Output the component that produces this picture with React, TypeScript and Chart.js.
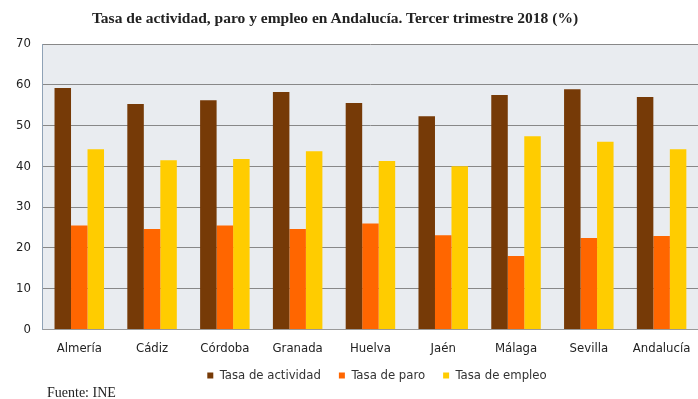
import React, { useEffect, useRef } from "react";
import { Chart, registerables } from "chart.js";

Chart.register(...registerables);

const categories = ["Almería", "Cádiz", "Córdoba", "Granada", "Huelva", "Jaén", "Málaga", "Sevilla", "Andalucía"];
const tasaActividad = [59.2, 55.3, 56.2, 58.2, 55.5, 52.3, 57.5, 58.9, 57.0];
const tasaParo = [25.5, 24.6, 25.5, 24.6, 26.0, 23.1, 18.0, 22.4, 22.9];
const tasaEmpleo = [44.2, 41.5, 41.8, 43.7, 41.3, 40.0, 47.4, 46.0, 44.2];
const yTicks = [0, 10, 20, 30, 40, 50, 60, 70];

const FONT = "'Liberation Sans Narrow', 'DejaVu Sans Condensed', Lato, sans-serif";

const plotBg = {
  id: "plotBg",
  beforeDraw(chart: any) {
    const { ctx, chartArea } = chart;
    if (!chartArea) return;
    ctx.save();
    ctx.fillStyle = "#E9ECF0";
    ctx.fillRect(chartArea.left, chartArea.top, chartArea.right - chartArea.left, chartArea.bottom - chartArea.top);
    ctx.restore();
  },
};

const legendShift = {
  id: "legendShift",
  afterLayout(chart: any) {
    const lg = chart.legend;
    if (lg) {
      lg.left += 26;
      lg.right += 26;
      lg.top -= 16;
      lg.bottom -= 16;
    }
  },
};

export default function App() {
  const ref = useRef<HTMLCanvasElement>(null);
  useEffect(() => {
    if (!ref.current) return;
    const chart = new Chart(ref.current, {
      type: "bar",
      data: {
        labels: categories,
        datasets: [
          { label: "Tasa de actividad", data: tasaActividad, backgroundColor: "#763A07" },
          { label: "Tasa de paro", data: tasaParo, backgroundColor: "#FF6600" },
          { label: "Tasa de empleo", data: tasaEmpleo, backgroundColor: "#FFCC00" },
        ],
      },
      plugins: [plotBg, legendShift],
      options: {
        responsive: false,
        animation: false,
        layout: { padding: { left: 4, right: 0, top: 44, bottom: -9 } },
        datasets: { bar: { categoryPercentage: 0.68, barPercentage: 1, borderWidth: 0 } },
        plugins: {
          title: { display: false },
          tooltip: { enabled: false },
          legend: {
            position: "bottom",
            labels: {
              boxWidth: 6,
              boxHeight: 6,
              padding: 18,
              color: "#333",
              font: { family: FONT, size: 13 },
            },
          },
        },
        scales: {
          x: {
            afterFit: (scale: any) => {
              scale.paddingLeft = 0;
              scale.paddingRight = 0;
            },
            grid: { display: false, drawTicks: false },
            border: { display: true, color: "#9a9a9a", width: 1 },
            ticks: { color: "#222", font: { family: FONT, size: 13 }, padding: 11, maxRotation: 0 },
          },
          y: {
            min: 0,
            max: 70,
            afterBuildTicks: (axis: any) => {
              axis.ticks = yTicks.map((v) => ({ value: v }));
            },
            grid: { color: "#888888", lineWidth: 1, drawTicks: false },
            border: { display: true, color: "#8FA2B6", width: 1 },
            ticks: { color: "#222", font: { family: FONT, size: 13 }, padding: 12 },
          },
        },
      },
    });
    return () => chart.destroy();
  }, []);

  return (
    <div style={{ position: "absolute", left: 0, top: 0, width: 698, height: 399, background: "#fff", overflow: "hidden" }}>
      <canvas ref={ref} width={698} height={399} style={{ position: "absolute", left: 0, top: 0 }} />
      <div
        style={{
          position: "absolute",
          left: 0,
          width: 670,
          top: 9,
          textAlign: "center",
          fontFamily: "'Liberation Serif', 'Times New Roman', serif",
          fontWeight: "bold",
          fontSize: 15.5,
          lineHeight: "18px",
          color: "#222",
        }}
      >
        Tasa de actividad, paro y empleo en Andalucía. Tercer trimestre 2018 (%)
      </div>
      <div
        style={{
          position: "absolute",
          left: 47,
          top: 385,
          fontFamily: "'Liberation Serif', 'Times New Roman', serif",
          fontSize: 14,
          lineHeight: "16px",
          color: "#222",
        }}
      >
        Fuente: INE
      </div>
    </div>
  );
}
